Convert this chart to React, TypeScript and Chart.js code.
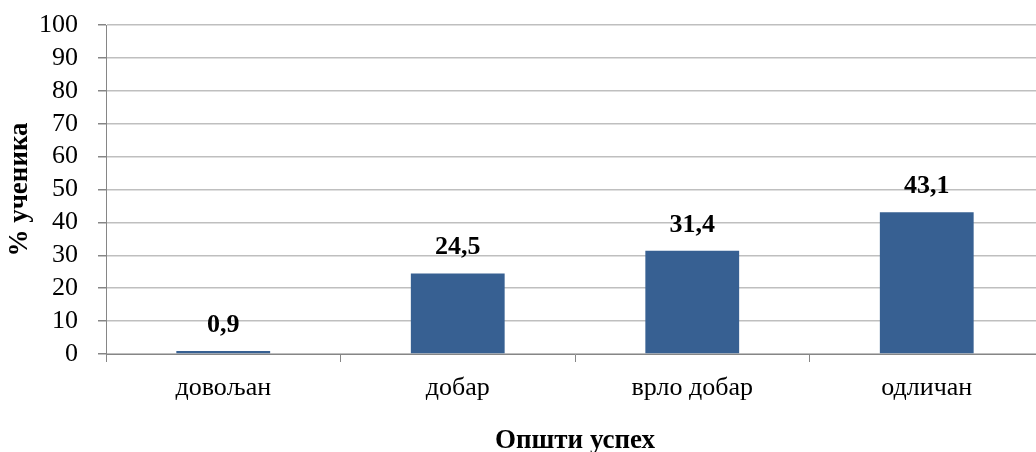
import React, { useEffect, useRef } from "react";
import { Chart, registerables } from "chart.js";

Chart.register(...registerables);

const categories = ["довољан", "добар", "врло добар", "одличан"];
const values = [0.9, 24.5, 31.4, 43.1];
const xTitle = "Општи успех";
const yTitle = "% ученика";

const FONT = "'Liberation Serif', 'Times New Roman', serif";

const labelPlugin = {
  id: "valueLabels",
  afterDatasetsDraw(chart: any) {
    const ctx = chart.ctx;
    const meta = chart.getDatasetMeta(0);
    ctx.save();
    ctx.font = `bold 26px ${FONT}`;
    ctx.fillStyle = "#000";
    ctx.textAlign = "center";
    ctx.textBaseline = "alphabetic";
    meta.data.forEach((bar: any, i: number) => {
      const v = chart.data.datasets[0].data[i] as number;
      const txt = v.toFixed(1).replace(".", ",");
      ctx.fillText(txt, bar.x, bar.y - 19);
    });
    ctx.restore();
  },
};

export default function App() {
  const ref = useRef<HTMLCanvasElement | null>(null);
  useEffect(() => {
    if (!ref.current) return;
    const chart = new Chart(ref.current, {
      type: "bar",
      data: {
        labels: categories,
        datasets: [
          {
            data: values,
            backgroundColor: "#376092",
            borderWidth: 0,
            barPercentage: 0.4,
            categoryPercentage: 1,
          },
        ],
      },
      options: {
        responsive: false,
        animation: false,
        devicePixelRatio: 1,
        layout: { padding: { top: 25, left: 0, right: 0, bottom: 0 } },
        plugins: {
          legend: { display: false },
          tooltip: { enabled: false },
        },
        scales: {
          x: {
            grid: {
              drawOnChartArea: false,
              offset: true,
              tickLength: 8,
              tickColor: "#868686",
            },
            border: { color: "#868686", width: 1 },
            ticks: {
              color: "#000",
              font: { family: FONT, size: 26 },
              padding: 11,
              maxRotation: 0,
            },
            title: {
              display: true,
              text: xTitle,
              color: "#000",
              font: { family: FONT, size: 27, weight: "bold", lineHeight: 0.8 },
              padding: { top: 0, bottom: 0 },
            },
            afterFit(scale: any) {
              scale.height = 98;
              scale.paddingLeft = 0;
              scale.paddingRight = 0;
            },
          },
          y: {
            min: 0,
            max: 100,
            ticks: {
              stepSize: 10,
              autoSkip: false,
              maxTicksLimit: 20,
              color: "#000",
              font: { family: FONT, size: 26, lineHeight: 1 },
              padding: 20,
            },
            grid: {
              color: "#BFBFBF",
              lineWidth: 1.5,
              tickLength: 8,
              tickColor: "#868686",
            },
            border: { color: "#868686", width: 1 },
            title: {
              display: true,
              text: yTitle,
              color: "#000",
              font: { family: FONT, size: 27, weight: "bold", lineHeight: 1 },
              padding: { top: 7, bottom: 0 },
            },
            afterFit(scale: any) {
              scale.width = 106;
              scale.paddingTop = 0;
              scale.paddingBottom = 0;
            },
          },
        },
      },
      plugins: [labelPlugin],
    });
    return () => chart.destroy();
  }, []);

  return (
    <div
      style={{
        position: "fixed",
        left: 0,
        top: 0,
        width: 1036,
        height: 452,
        overflow: "hidden",
        background: "#fff",
      }}
    >
      <canvas ref={ref} width={1044} height={452} style={{ display: "block" }} />
    </div>
  );
}
